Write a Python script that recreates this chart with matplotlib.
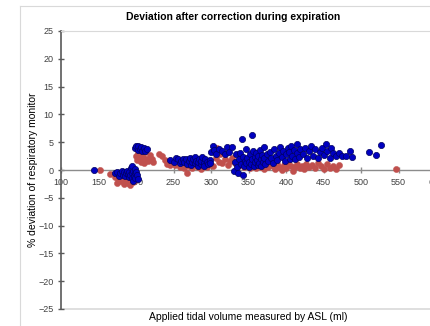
import matplotlib
matplotlib.use("Agg")
import matplotlib.pyplot as plt
from matplotlib.lines import Line2D

plt.rcParams['font.family'] = ['Liberation Sans', 'DejaVu Sans']

# two series
blue_x = [144, 172, 175, 177, 179, 181, 182, 184, 185, 186, 188, 189, 190, 191, 192, 193, 194, 195, 195, 196,
          196, 197, 198, 198, 199, 200, 201, 202,
          199, 200, 202, 203, 205, 206, 208, 210, 212, 215,
          245, 250, 253, 256, 258, 260, 262, 264, 266, 268, 270, 272, 273, 275, 276, 278, 279, 280, 282, 283,
          284, 286, 287, 288, 290, 291, 292, 294, 296, 298, 299,
          300, 302, 304, 307, 310, 315, 318, 321, 324, 328,
          330, 332, 333, 335, 336, 337, 338, 340, 341, 342, 343, 344, 345, 346, 347, 348, 350, 351, 352, 353,
          354, 355, 356, 357, 358, 359, 360, 361, 362, 363, 364, 365, 366, 367, 368, 369, 370, 371, 372, 374,
          376, 378, 380, 382, 384, 386, 388, 390, 392, 394, 396, 398, 400, 402, 404, 405, 407, 408, 410, 412,
          414, 415, 417, 419,
          422, 425, 428, 430, 433, 436, 439, 442, 445, 448, 450, 453, 455, 458, 460, 463, 466, 470, 475, 480,
          485, 488,
          510, 520, 526]
blue_y = [0.0, -0.6, -0.3, -1.0, -0.5, -0.2, -0.9, -0.4, -1.1, -0.6, -0.2, -0.8, -1.2, -0.4, -0.9, 0.3, -0.6, 0.7, -1.5, -0.2,
          -2.0, -1.0, 0.2, -0.6, -1.4, -0.3, -0.9, -1.7,
          3.9, 4.3, 3.6, 4.4, 3.8, 4.1, 3.5, 3.9, 3.4, 3.7,
          1.8, 1.5, 2.2, 1.9, 1.2, 1.7, 2.0, 1.4, 1.9, 1.1, 1.6, 2.1, 0.9, 1.5, 1.9, 1.2, 2.3, 1.7, 0.8, 1.4,
          2.0, 1.1, 1.7, 2.4, 1.3, 0.8, 1.9, 1.5, 1.0, 1.8, 1.2,
          3.2, 4.3, 3.6, 2.9, 3.8, 3.4, 2.8, 4.1, 3.3, 4.2,
          -0.1, 1.5, 2.8, 0.6, -0.6, 1.9, 3.1, 1.1, 5.5, -0.9, 2.4, 0.8, 1.6, 3.8, 1.2, 2.1, 0.5, 1.5, 2.8, 1.0,
          6.3, 1.9, 3.4, 0.7, 2.3, 1.4, 3.0, 1.8, 0.9, 2.5, 1.3, 3.6, 1.9, 0.8, 2.7, 1.5, 2.1, 4.1, 1.1, 2.8,
          1.6, 3.2, 2.2, 1.3, 3.7, 2.6, 1.8, 3.1, 4.2, 2.3, 3.5, 1.7, 2.8, 4.0, 3.2, 1.9, 4.4, 2.5, 3.6, 2.0,
          4.7, 3.0, 2.4, 3.8,
          2.9, 4.0, 2.2, 3.5, 4.3, 2.6, 3.8, 2.1, 3.3, 4.0, 2.7, 4.6, 3.5, 2.2, 4.0, 3.1, 2.5, 3.0, 2.6, 2.5,
          3.5, 2.3,
          3.3, 2.7, 4.5]

red_x = [152, 165, 172, 174, 176, 178, 180, 182, 184, 186, 187, 189, 190, 192, 194, 196, 198,
         200, 201, 203, 204, 206, 207, 209, 211, 212, 214, 216, 218, 221, 223,
         230, 234, 238, 241, 245, 248,
         252, 255, 258, 261, 264, 266, 268, 270, 273, 275, 277, 280, 282, 285, 287, 290, 292, 295, 298, 302,
         304, 306, 308, 310, 312, 315, 318, 322, 325, 328,
         332, 336, 340, 344, 348, 352, 356, 360, 364, 367, 370, 373, 376, 379, 382, 385, 388, 391, 394, 397,
         400, 403, 406, 409, 412, 415, 418, 421, 424, 427, 430, 434, 438, 442, 446, 450, 454, 458, 462, 466,
         470,
         547]
red_y = [0.0, -0.7, -1.3, -2.4, -1.6, -0.9, -2.0, -1.4, -2.6, -1.1, -1.9, -2.3, -1.5, -2.7, -1.2, -2.2, -1.8,
         2.6, 1.8, 3.1, 2.2, 1.5, 2.9, 2.4, 1.2, 3.3, 2.0, 1.6, 2.7, 1.9, 1.4,
         2.9, 2.5, 1.8, 1.1, 0.9, 1.5,
         0.9, 1.3, 0.6, 1.1, 0.4, 1.5, -0.5, 0.8, 1.2, 0.3, 0.9, 1.4, 0.5, 1.1, 0.2, 0.8, 1.3, 0.6, 1.0, 0.7,
         3.5, 2.2, 4.0, 1.5, 2.8, 1.2, 1.9, 0.9, 1.6, 2.1,
         1.2, 0.7, 1.4, 0.5, 1.0, 0.3, 0.9, 0.4, 1.3, 0.6, 0.2, 1.0, 0.5, 1.5, 0.8, 0.2, 1.1, 0.6, 0.0, 0.9,
         0.4, 1.2, 0.7, -0.2, 0.5, 1.0, 0.3, 0.8, 0.2, 1.1, 0.6, 0.9, 0.3, 1.3, 0.7, 0.2, 1.0, 0.4, 0.8, 0.2,
         0.9,
         0.2]

x_ticks = [100, 150, 200, 250, 300, 350, 400, 450, 500, 550, 600]
y_ticks = [-25, -20, -15, -10, -5, 0, 5, 10, 15, 20, 25]

fig = plt.figure(figsize=(4.30, 3.26), dpi=100)
ax = fig.add_axes([61/430, 1-309/326, 375/430, 278/326])

ax.scatter(red_x, red_y, s=20, color='#C0504D', edgecolors='#C0504D', linewidths=0.3, zorder=3)
ax.scatter(blue_x, blue_y, s=20, color='#0000C0', edgecolors='#000060', linewidths=0.5, zorder=4)

ax.set_xlim(100, 600)
ax.set_ylim(-25, 25)
ax.set_xticks(x_ticks)
ax.set_yticks(y_ticks)

ax.spines['left'].set_color('#595959')
ax.spines['left'].set_linewidth(1.2)
ax.spines['bottom'].set_position(('data', 0))
ax.spines['bottom'].set_color('#8c8c8c')
ax.spines['bottom'].set_linewidth(1.0)
ax.spines['top'].set_color('#d9d9d9')
ax.spines['top'].set_linewidth(0.8)
ax.spines['right'].set_visible(False)
ax.axhline(-25, color='#d9d9d9', lw=1.2, clip_on=False, zorder=1)

ax.tick_params(axis='y', direction='inout', length=5, width=1, color='#595959',
               labelsize=6.5, labelcolor='#404040', pad=3)
ax.tick_params(axis='x', direction='inout', length=5, width=1, color='#8c8c8c',
               labelsize=6.5, labelcolor='#404040', pad=3)

ax.set_ylabel('% deviation of respiratory monitor', fontsize=7.5)
ax.yaxis.set_label_coords(-23/375, 0.5)

fig.text(248/430, 1-317/326, 'Applied tidal volume measured by ASL (ml)', ha='center', va='center', fontsize=7.5)
fig.text(233/430, 1-17/326, 'Deviation after correction during expiration', ha='center', va='center',
         fontsize=7.5, fontweight='bold')

# chart area border
fig.add_artist(Line2D([20/430, 1], [1-6/326, 1-6/326], color='#d9d9d9', lw=0.8))
fig.add_artist(Line2D([20/430, 20/430], [0, 1-6/326], color='#d9d9d9', lw=0.8))

fig.savefig('out.png', dpi=100)
